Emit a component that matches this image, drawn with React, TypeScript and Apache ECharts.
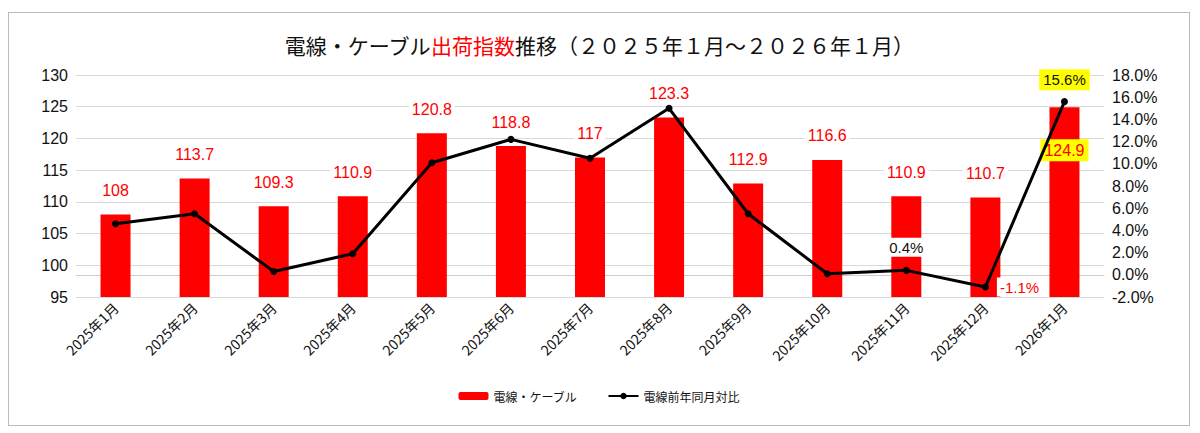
import React, { useEffect, useRef } from "react";
import * as echarts from "echarts";

const categories = ["2025年1月","2025年2月","2025年3月","2025年4月","2025年5月","2025年6月","2025年7月","2025年8月","2025年9月","2025年10月","2025年11月","2025年12月","2026年1月"];
const barValues = [108, 113.7, 109.3, 110.9, 120.8, 118.8, 117, 123.3, 112.9, 116.6, 110.9, 110.7, 124.9];
const yoyValues = [4.6, 5.5, 0.3, 1.9, 10.1, 12.2, 10.5, 15.0, 5.5, 0.1, 0.4, -1.1, 15.6];

export default function App() {
  const ref = useRef<HTMLDivElement>(null);
  useEffect(() => {
    const chart = echarts.init(ref.current!, undefined, { renderer: "svg" });
    const font = "Liberation Sans, Noto Sans CJK JP, sans-serif";
    const n = categories.length;
    chart.setOption({
      animation: false,
      textStyle: { fontFamily: font },
      title: {
        text: "電線・ケーブル{r|出荷指数}推移（２０２５年１月～２０２６年１月）",
        left: "center", top: 16,
        textStyle: { fontSize: 21, fontWeight: "normal", color: "#111", fontFamily: "Noto Sans CJK JP",
          rich: { r: { fontSize: 21, color: "#f00", fontFamily: "Noto Sans CJK JP" } } },
      },
      legend: {
        bottom: 18, itemWidth: 30, itemHeight: 8, itemGap: 30,
        textStyle: { fontSize: 12, color: "#111", fontFamily: "Noto Sans CJK JP" },
        data: [{ name: "電線・ケーブル" }, { name: "電線前年同月対比" }],
      },
      grid: { left: 67, right: 85, top: 62, bottom: 128 },
      xAxis: {
        type: "category", data: categories,
        axisLine: { lineStyle: { color: "#ccc" } }, axisTick: { show: false },
        axisLabel: { rotate: 45, fontSize: 14, color: "#111", fontFamily: "Noto Sans CJK JP", interval: 0 },
      },
      yAxis: [
        { type: "value", min: 95, max: 130, interval: 5,
          axisLabel: { fontSize: 16, color: "#111" },
          splitLine: { lineStyle: { color: "#d9d9d9" } } },
        { type: "value", min: -2, max: 18, interval: 2,
          axisLabel: { fontSize: 16, color: "#111", formatter: (v: number) => v.toFixed(1) + "%" },
          splitLine: { show: false } },
      ],
      series: [
        { name: "電線・ケーブル", type: "bar", data: barValues.map((v, i) => i === n - 1 ? {
            value: v, label: { position: "insideTop", offset: [0, 18], backgroundColor: "#ff0", padding: [3, 4] } } : v),
          barWidth: 30, itemStyle: { color: "#f00" },
          label: { show: true, position: "top", distance: 14, color: "#f00", fontSize: 16, backgroundColor: "#fff", padding: [2, 3] } },
        { name: "電線前年同月対比", type: "line", yAxisIndex: 1, data: yoyValues.map((v, i) => {
            if (i === 10) return { value: v, label: { show: true, position: "top", distance: 10, color: "#111", backgroundColor: "#fff", padding: [2, 3] } };
            if (i === 11) return { value: v, label: { show: true, position: "right", distance: 8, color: "#f00", backgroundColor: "#fff", padding: [2, 3] } };
            if (i === n - 1) return { value: v, label: { show: true, position: "top", distance: 8, color: "#111", backgroundColor: "#ff0", padding: [3, 4] } };
            return v;
          }),
          z: 3, symbol: "circle", symbolSize: 7, lineStyle: { color: "#000", width: 3 }, itemStyle: { color: "#000" },
          label: { show: false, fontSize: 15, formatter: (p: any) => p.value.toFixed(1) + "%" } },
      ],
    });
    return () => chart.dispose();
  }, []);
  return <div style={{ border: "1px solid #bbb", width: 1180, height: 412, margin: "4px 0 0 0" }}>
    <div ref={ref} style={{ width: 1180, height: 412 }} />
  </div>;
}
